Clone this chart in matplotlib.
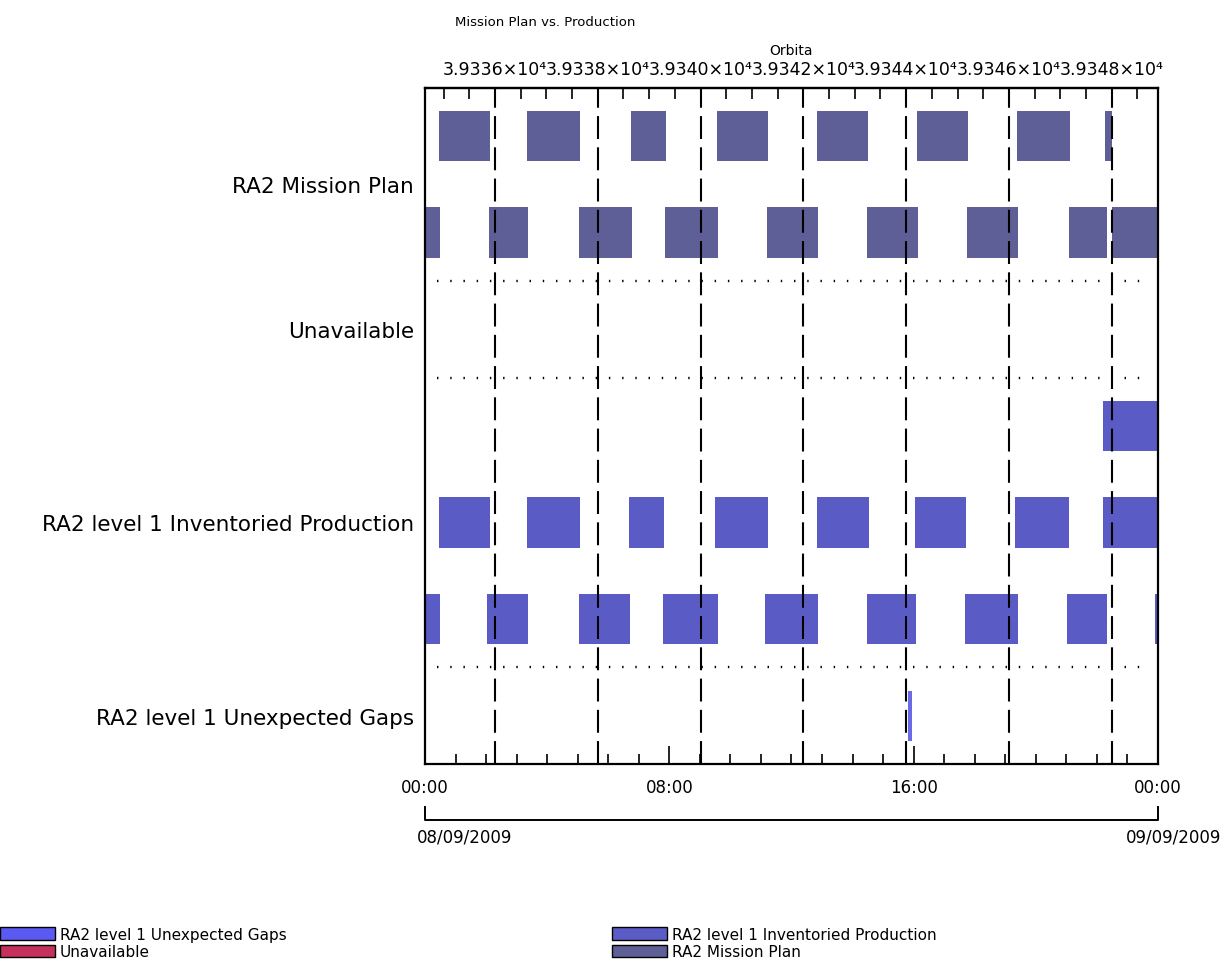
import matplotlib
matplotlib.use("Agg")
import matplotlib.pyplot as plt
from matplotlib.patches import Patch
from matplotlib.ticker import FixedLocator, MultipleLocator

# hours of the day (08/09/2009), start/end of each bar, one list per lane
mission_lane1 = [(0.46, 2.13), (3.34, 5.08), (6.75, 7.89), (9.56, 11.23), (12.84, 14.51),
                 (16.11, 17.78), (19.38, 21.12), (22.26, 22.49)]
mission_lane2 = [(0.0, 0.49), (2.10, 3.37), (5.04, 6.78), (7.86, 9.59), (11.20, 12.87),
                 (14.47, 16.14), (17.75, 19.42), (21.09, 22.33), (22.49, 24.0)]
unavailable = []
inv_lane1 = [(22.20, 24.0)]
inv_lane2 = [(0.46, 2.13), (3.34, 5.08), (6.68, 7.83), (9.50, 11.23), (12.84, 14.54),
             (16.04, 17.71), (19.32, 21.09), (22.20, 24.0)]
inv_lane3 = [(0.0, 0.49), (2.03, 3.37), (5.04, 6.71), (7.79, 9.59), (11.13, 12.87),
             (14.47, 16.08), (17.68, 19.42), (21.02, 22.33), (23.90, 24.0)]
gaps = [(15.81, 15.95)]

categories = ["RA2 Mission Plan", "Unavailable",
              "RA2 level 1 Inventoried Production", "RA2 level 1 Unexpected Gaps"]
time_ticks = [0, 8, 16, 24]
time_labels = ["00:00", "08:00", "16:00", "00:00"]
orbit_ticks = [39336, 39338, 39340, 39342, 39344, 39346, 39348]
orbit_labels = ["3.9336×10⁴", "3.9338×10⁴", "3.9340×10⁴", "3.9342×10⁴",
                "3.9344×10⁴", "3.9346×10⁴", "3.9348×10⁴"]
orbit0 = 39336       # orbit at 2.29 h
orbit0_h = 2.29
orbit_period = 1.683  # hours

c_plan = "#5f5f97"
c_inv = "#5b5bc6"
c_gap = "#6a6ae6"
c_gap_leg = "#5a5af2"
c_unav = "#c5305c"

# lanes from top: plan, plan, unavailable, inv, inv, inv, gaps
lanes = [(mission_lane1, c_plan), (mission_lane2, c_plan), (unavailable, c_unav),
         (inv_lane1, c_inv), (inv_lane2, c_inv), (inv_lane3, c_inv), (gaps, c_gap)]

fig = plt.figure(figsize=(12.23, 9.62), dpi=100)
ax = fig.add_axes([0.3475, 0.2048, 0.5993, 0.703])

bar_h = 0.52
for i, (segs, col) in enumerate(lanes):
    if segs:
        ax.broken_barh([(s, e - s) for s, e in segs], (i + 0.5 - bar_h / 2, bar_h),
                       facecolors=col, edgecolor="none", zorder=2)

# orbit boundaries
def h2orb(h):
    return orbit0 + (h - orbit0_h) / orbit_period

def orb2h(o):
    return orbit0_h + (o - orbit0) * orbit_period

for o in orbit_ticks:
    ax.axvline(orb2h(o), color="black", lw=1.5, dashes=(11, 4), zorder=3)

# separators between categories
for y in [2, 3, 6]:
    ax.plot([0.4, 23.65], [y, y], color="black", lw=1.7, linestyle=(0, (0.6, 5)), zorder=3)

ax.set_xlim(0, 24)
ax.set_ylim(7, 0)
ax.set_yticks([1.0, 2.5, 4.5, 6.5])
ax.set_yticklabels(categories, fontsize=15.5)
ax.tick_params(axis="y", length=0, pad=8)

ax.set_xticks(time_ticks)
ax.set_xticklabels(time_labels, fontsize=12)
ax.xaxis.set_minor_locator(MultipleLocator(1))
ax.tick_params(axis="x", which="major", direction="in", length=13, width=1.2, pad=10)
ax.tick_params(axis="x", which="minor", direction="in", length=7, width=1.2)

for sp in ax.spines.values():
    sp.set_linewidth(1.6)

top = ax.secondary_xaxis("top", functions=(h2orb, orb2h))
top.xaxis.set_major_locator(FixedLocator(orbit_ticks))
top.set_xticklabels(orbit_labels, fontsize=12.5)
top.xaxis.set_minor_locator(MultipleLocator(0.5))
top.tick_params(which="major", direction="in", length=13, width=1.2, pad=7)
top.tick_params(which="minor", direction="in", length=8, width=1.2)
top.spines["top"].set_linewidth(1.6)
top.set_xlabel("Orbita", fontsize=10, labelpad=4)

fig.text(455 / 1223, 1 - 22 / 962, "Mission Plan vs. Production", fontsize=9.5, va="center")

# date bracket below time axis
bx0, bx1 = 425 / 1223, 1158 / 1223
by0, by1 = 1 - 808 / 962, 1 - 821 / 962
fig.add_artist(plt.Line2D([bx0, bx0, bx1, bx1], [by0, by1, by1, by0], color="black", lw=1.4))
fig.text(417 / 1223, 1 - 838 / 962, "08/09/2009", fontsize=12, va="center")
fig.text(1221 / 1223, 1 - 838 / 962, "09/09/2009", fontsize=12, va="center", ha="right")

h1 = [Patch(facecolor=c_gap_leg, edgecolor="black", label="RA2 level 1 Unexpected Gaps"),
      Patch(facecolor=c_unav, edgecolor="black", label="Unavailable")]
h2 = [Patch(facecolor=c_inv, edgecolor="black", label="RA2 level 1 Inventoried Production"),
      Patch(facecolor=c_plan, edgecolor="black", label="RA2 Mission Plan")]
for handles, x in [(h1, 0.0), (h2, 612 / 1223)]:
    leg = fig.legend(handles=handles, loc="upper left", bbox_to_anchor=(x, 1 - 928 / 962),
                     frameon=False, fontsize=11, handlelength=3.6, handleheight=0.9,
                     handletextpad=0.3, labelspacing=0.15, borderaxespad=0, borderpad=0)

fig.savefig("out.png", dpi=100)
